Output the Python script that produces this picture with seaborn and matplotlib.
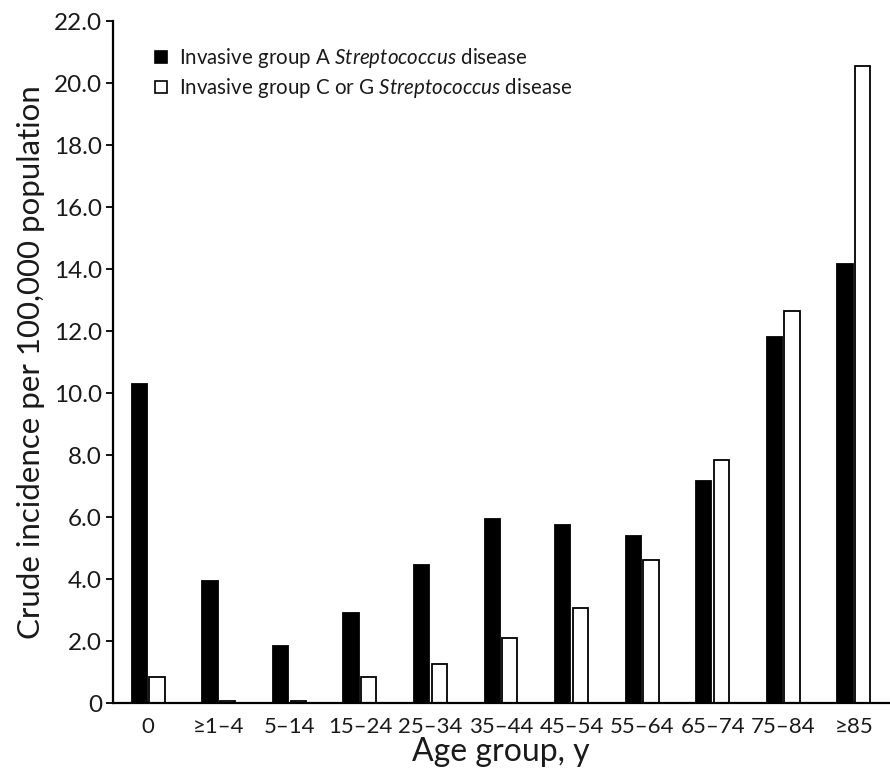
import matplotlib
matplotlib.use("Agg")
import matplotlib.pyplot as plt
import seaborn as sns
import pandas as pd
from matplotlib.patches import Patch

age_groups = ["0", "≥1–4", "5–14", "15–24", "25–34", "35–44", "45–54",
              "55–64", "65–74", "75–84", "≥85"]
group_a = [10.3, 3.95, 1.85, 2.9, 4.45, 5.95, 5.75, 5.4, 7.15, 11.8, 14.15]
group_cg = [0.85, 0.05, 0.05, 0.85, 1.25, 2.1, 3.05, 4.6, 7.85, 12.65, 20.55]
series_names = ["Invasive group A Streptococcus disease",
                "Invasive group C or G Streptococcus disease"]
yticks = [0, 2, 4, 6, 8, 10, 12, 14, 16, 18, 20, 22]

df = pd.DataFrame({
    "age": age_groups * 2,
    "value": group_a + group_cg,
    "series": [series_names[0]] * len(age_groups) + [series_names[1]] * len(age_groups),
})

sns.set_theme(style="white")
plt.rcParams["font.family"] = ["Lato", "DejaVu Sans"]
plt.rcParams["mathtext.fontset"] = "custom"
plt.rcParams["mathtext.rm"] = "Lato"
plt.rcParams["mathtext.it"] = "Lato:italic"

fig = plt.figure(figsize=(8.9, 7.7), dpi=100)
ax = fig.add_axes([113 / 890, 1 - 703 / 770, (889 - 113) / 890, (703 - 21) / 770])

sns.barplot(data=df, x="age", y="value", hue="series", order=age_groups,
            palette=["black", "white"], edgecolor="black", linewidth=1.3,
            width=0.5, gap=0.13, ax=ax, legend=False)

ax.set_xlim(-0.5, len(age_groups) - 0.5)
ax.set_ylim(0, 22)
ax.set_yticks(yticks)
ax.set_yticklabels(["0" if v == 0 else f"{v:.1f}" for v in yticks], fontsize=17.5, color="#1a1a1a")
ax.set_xticks(range(len(age_groups)))
ax.set_xticklabels(age_groups, fontsize=16, color="#1a1a1a")
ax.tick_params(axis="y", left=True, length=5, width=1.3, color="black", pad=3)
ax.tick_params(axis="x", bottom=False, pad=4)

for s in ["top", "right"]:
    ax.spines[s].set_visible(False)
for s in ["left", "bottom"]:
    ax.spines[s].set_color("black")
    ax.spines[s].set_linewidth(1.6)

ax.set_xlabel("Age group, y", fontsize=23, color="#1a1a1a", labelpad=0)
ax.set_ylabel("Crude incidence per 100,000 population", fontsize=22.5, color="#1a1a1a", labelpad=6)

labels = ["Invasive group A $\\mathit{Streptococcus}$ disease",
          "Invasive group C or G $\\mathit{Streptococcus}$ disease"]
handles = [Patch(facecolor="black", edgecolor="black", linewidth=1.2),
           Patch(facecolor="white", edgecolor="black", linewidth=1.2)]
ax.legend(handles, labels, loc="upper left", bbox_to_anchor=(0.03, 0.99),
          frameon=False, fontsize=14.8, handlelength=0.6, handleheight=0.5,
          handletextpad=0.6, labelspacing=0.3, labelcolor="#1a1a1a")

fig.savefig("out.png", dpi=100, facecolor="white")
